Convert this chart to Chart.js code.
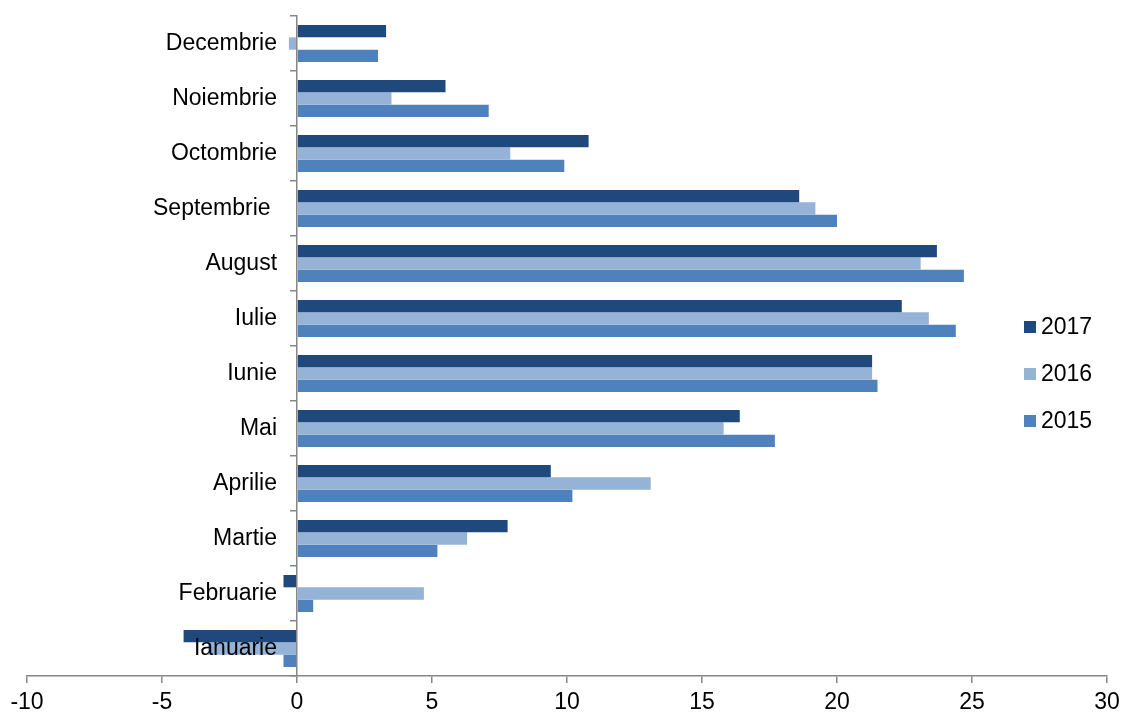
<!DOCTYPE html>
<html>
<head>
<meta charset="utf-8">
<script src="https://cdn.jsdelivr.net/npm/chart.js@4"></script>
<style>
  body { margin: 0; background: #fff; }
  #wrap { position: relative; width: 1126px; height: 718px; }
  #legend { position: absolute; left: 1024px; top: 312px; font: 23px "Liberation Sans", Arial, sans-serif; color: #000; }
  #legend div { height: 47px; line-height: 28px; white-space: nowrap; }
  #legend span { display: inline-block; width: 12px; height: 12px; margin-right: 5px; vertical-align: 1px; }
</style>
</head>
<body>
<div id="wrap">
  <canvas id="chart"></canvas>
  <div id="legend"></div>
</div>
<script>
const months = ["Ianuarie", "Februarie", "Martie", "Aprilie", "Mai", "Iunie", "Iulie",
  "August", "Septembrie ", "Octombrie", "Noiembrie", "Decembrie"];
const years = ["2017", "2016", "2015"];
const v2017 = [-4.2, -0.5, 7.8, 9.4, 16.4, 21.3, 22.4, 23.7, 18.6, 10.8, 5.5, 3.3];
const v2016 = [-3.3, 4.7, 6.3, 13.1, 15.8, 21.3, 23.4, 23.1, 19.2, 7.9, 3.5, -0.3];
const v2015 = [-0.5, 0.6, 5.2, 10.2, 17.7, 21.5, 24.4, 24.7, 20.0, 9.9, 7.1, 3.0];
const xTicks = [-10, -5, 0, 5, 10, 15, 20, 25, 30];

const colors = ["#1F497D", "#95B3D7", "#4F81BD"];
const font = { family: "'Liberation Sans', Arial, sans-serif", size: 23 };
const axisGrey = "#868686";

const chart = new Chart(document.getElementById("chart"), {
  type: "bar",
  data: {
    labels: months,
    datasets: [v2017, v2016, v2015].map((d, i) => ({
      label: years[i], data: d, backgroundColor: colors[i], borderWidth: 0
    }))
  },
  options: {
    indexAxis: "y",
    responsive: true,
    maintainAspectRatio: false,
    animation: false,
    categoryPercentage: 0.673,
    barPercentage: 1,
    layout: { padding: { left: 27, right: 19, top: 16, bottom: 0 } },
    plugins: { legend: { display: false }, tooltip: { enabled: false } },
    scales: {
      x: {
        min: xTicks[0], max: xTicks[xTicks.length - 1],
        afterBuildTicks: s => { s.ticks = xTicks.map(v => ({ value: v })); },
        afterFit: s => { s.height = 42; },
        ticks: { font, color: "#000", padding: 6, maxRotation: 0 },
        grid: { drawOnChartArea: false, tickLength: 7, color: axisGrey, lineWidth: 1.5 },
        border: { color: axisGrey, width: 1.5 }
      },
      // the axis line at zero with its tick marks
      y: {
        position: { x: 0 },
        reverse: true,
        ticks: { display: false, padding: 0 },
        grid: { drawOnChartArea: false, tickLength: 6, color: axisGrey, lineWidth: 1.5, offset: true },
        border: { color: axisGrey, width: 1.5, z: 1 }
      },
      // month names, just left of the zero line and drawn over the bars
      yLabels: {
        type: "category",
        axis: "y",
        position: { x: -0.74 },
        reverse: true,
        offset: true,
        grid: { display: false },
        border: { display: false },
        ticks: { font, color: "#000", padding: 0, z: 1 }
      }
    }
  }
});

document.getElementById("legend").innerHTML = years.map((y, i) =>
  `<div><span style="background:${colors[i]}"></span>${y}</div>`).join("");
</script>
</body>
</html>
